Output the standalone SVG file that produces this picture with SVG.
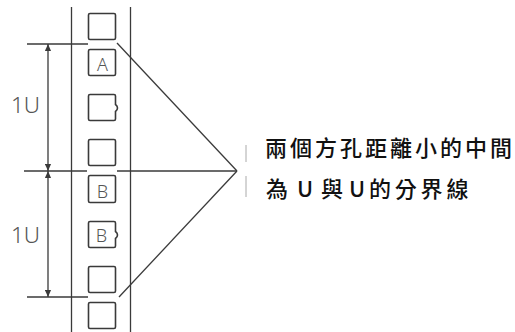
<svg xmlns="http://www.w3.org/2000/svg" width="515" height="332" viewBox="0 0 515 332">
<style>
.ln{stroke:#3a3a3a;stroke-width:1.3;fill:none}
.sq{stroke:#3a3a3a;stroke-width:1.6;fill:#fff}
.lt{font-family:"Noto Sans","DejaVu Sans",sans-serif;fill:#555;font-size:18px;font-weight:300;text-anchor:middle}
.u{font-family:"Noto Sans","DejaVu Sans",sans-serif;fill:#555;font-size:22.5px;font-weight:300}
.cj{font-family:"Noto Sans CJK TC","Noto Sans CJK SC",sans-serif;fill:#111;font-size:22px;font-weight:500}
</style>
<defs>
<marker id="ah" viewBox="0 0 8 8" refX="8" refY="4" markerWidth="7" markerHeight="7" markerUnits="userSpaceOnUse" orient="auto-start-reverse">
<path d="M0,0.5 L8,4 L0,7.5 Z" fill="#3a3a3a"/>
</marker>
</defs>
<rect width="515" height="332" fill="#fff"/>
<g id="rails">
<line class="ln" x1="71.5" y1="7" x2="71.5" y2="332"/>
<line class="ln" x1="130.5" y1="7" x2="130.5" y2="332"/>
</g>
<g id="holes">
<rect id="h1" class="sq" x="88.5" y="13.5" width="27" height="26" rx="1.5"/>
<g id="h2"><rect class="sq" x="88.5" y="49.5" width="27" height="26" rx="1.5"/><text class="lt" x="102.5" y="70.5">A</text></g>
<path id="h3" class="sq" d="M90,94.5 H114 Q115.5,94.5 115.5,96 V104.5 Q117.5,106 117.5,108 Q117.5,110 115.5,111.5 V119 Q115.5,120.5 114,120.5 H90 Q88.5,120.5 88.5,119 V96 Q88.5,94.5 90,94.5 Z"/>
<rect id="h4" class="sq" x="88.5" y="139.5" width="27" height="26" rx="1.5"/>
<g id="h5"><rect class="sq" x="88.5" y="175.5" width="27" height="27" rx="1.5"/><text class="lt" x="102.5" y="197.5">B</text></g>
<g id="h6"><path class="sq" d="M90,221.5 H114 Q115.5,221.5 115.5,223 V231.5 Q117.5,233 117.5,235 Q117.5,237 115.5,238.5 V246 Q115.5,247.5 114,247.5 H90 Q88.5,247.5 88.5,246 V223 Q88.5,221.5 90,221.5 Z"/><text class="lt" x="101.5" y="242">B</text></g>
<rect id="h7" class="sq" x="88.5" y="266.5" width="27" height="26" rx="1.5"/>
<rect id="h8" class="sq" x="88.5" y="302.5" width="27" height="26" rx="1.5"/>
</g>
<g id="connectors">
<line class="ln" x1="27" y1="44" x2="88" y2="44"/>
<line class="ln" x1="24" y1="171" x2="87" y2="171"/>
<line class="ln" x1="27" y1="297" x2="88" y2="297"/>
<line class="ln" x1="117" y1="171" x2="237" y2="171"/>
<line class="ln" x1="117" y1="43" x2="237" y2="171"/>
<line class="ln" x1="119" y1="297" x2="237" y2="171"/>
<line class="ln" x1="48" y1="44" x2="48" y2="171" marker-start="url(#ah)" marker-end="url(#ah)"/>
<line class="ln" x1="48" y1="171" x2="48" y2="297" marker-start="url(#ah)" marker-end="url(#ah)"/>
<line x1="246" y1="145" x2="246" y2="162" stroke="#aaa" stroke-width="1"/>
<line x1="246" y1="176" x2="246" y2="197" stroke="#aaa" stroke-width="1"/>
</g>
<g id="labels">
<text class="u" x="11" y="113">1U</text>
<text class="u" x="11" y="243">1U</text>
<text class="cj" x="265" y="156" letter-spacing="3">兩個方孔距離小的中間</text>
<text class="cj" y="197"><tspan x="266">為</tspan><tspan x="297">U</tspan><tspan x="321">與</tspan><tspan x="349">U</tspan><tspan x="369" letter-spacing="3.8">的分界線</tspan></text>
</g>
</svg>
